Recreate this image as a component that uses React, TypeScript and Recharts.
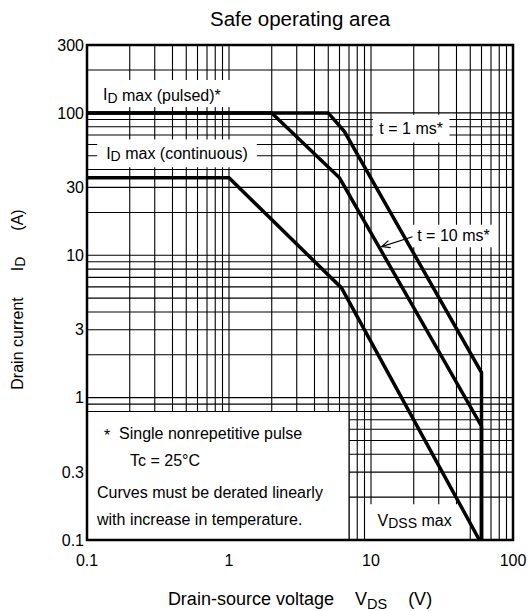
import React from 'react';
import {
  LineChart,
  Line,
  XAxis,
  YAxis,
  CartesianGrid,
  ReferenceArea,
  ReferenceLine,
} from 'recharts';

// ---- axis ticks (grid lines) ----
const xTicks = [
  0.1, 0.2, 0.3, 0.4, 0.5, 0.6, 0.7, 0.8, 0.9,
  1, 2, 3, 4, 5, 6, 7, 8, 9,
  10, 20, 30, 40, 50, 60, 70, 80, 90, 100,
];
const yTicks = [
  0.1, 0.2, 0.3, 0.4, 0.5, 0.6, 0.7, 0.8, 0.9,
  1, 2, 3, 4, 5, 6, 7, 8, 9,
  10, 20, 30, 40, 50, 60, 70, 80, 90,
  100, 200, 300,
];
const xTickLabels = [0.1, 1, 10, 100];
const yTickLabels = [0.1, 0.3, 1, 3, 10, 30, 100, 300];

// ---- curves: drain-source voltage (V) / drain current (A) ----
const pulse1msV = [0.1, 5, 6.5, 60, 60];
const pulse1msI = [100, 100, 74, 1.5, 0.1];
const pulse10msV = [0.1, 2, 6, 60, 60];
const pulse10msI = [100, 100, 35, 0.63, 0.1];
const dcV = [0.1, 1, 6.2, 58];
const dcI = [35, 35, 5.9, 0.1];

const toRows = (v: number[], i: number[]) => v.map((x, k) => ({ v: x, i: i[k] }));
const data1ms = toRows(pulse1msV, pulse1msI);
const data10ms = toRows(pulse10msV, pulse10msI);
const dataDc = toRows(dcV, dcI);

const FONT = '"Liberation Sans", Arial, Helvetica, sans-serif';
const BLACK = '#000';

const fmt = (labels: number[]) => (val: number) =>
  labels.some((l) => Math.abs(l - val) < 1e-9) ? String(val) : '';

const txt = { fontFamily: FONT, fill: BLACK } as const;

const pulsedLabel = (p: any) => {
  const vb = p.viewBox;
  return (
    <text x={vb.x + 16} y={vb.y + vb.height / 2 + 1} dominantBaseline="central" fontSize={16} {...txt}>
      I<tspan fontSize={14} dy={3}>D</tspan>
      <tspan dy={-3}> max (pulsed)*</tspan>
    </text>
  );
};

const contLabel = (p: any) => {
  const vb = p.viewBox;
  return (
    <text x={vb.x + vb.width / 2} y={vb.y + vb.height / 2} textAnchor="middle" dominantBaseline="central" fontSize={16} {...txt}>
      I<tspan fontSize={14} dy={3}>D</tspan>
      <tspan dy={-3}> max (continuous)</tspan>
    </text>
  );
};

const centerLabel = (s: string) => (p: any) => {
  const vb = p.viewBox;
  return (
    <text x={vb.x + vb.width / 2} y={vb.y + vb.height / 2} textAnchor="middle" dominantBaseline="central" fontSize={16} {...txt}>
      {s}
    </text>
  );
};

const vdssLabel = (p: any) => {
  const vb = p.viewBox;
  return (
    <text x={vb.x + vb.width / 2} y={vb.y + vb.height / 2 - 2} textAnchor="middle" dominantBaseline="central" fontSize={16} {...txt}>
      V<tspan fontSize={14} dy={3}>DSS</tspan>
      <tspan dy={-3}> max</tspan>
    </text>
  );
};

const noteLabel = (p: any) => {
  const vb = p.viewBox;
  const x = vb.x;
  const y = vb.y;
  return (
    <g fontSize={16} {...txt}>
      <text x={x + 17} y={y + 24} dominantBaseline="central">*</text>
      <text x={x + 32} y={y + 22} dominantBaseline="central">Single nonrepetitive pulse</text>
      <text x={x + 43} y={y + 49} dominantBaseline="central">Tc = 25°C</text>
      <text x={x + 10} y={y + 81} dominantBaseline="central">Curves must be derated linearly</text>
      <text x={x + 10} y={y + 108} dominantBaseline="central">with increase in temperature.</text>
    </g>
  );
};

const titleLabel = (p: any) => {
  const vb = p.viewBox;
  return (
    <text x={vb.x + vb.width / 2} y={vb.y - 27} textAnchor="middle" dominantBaseline="central" fontSize={20.5} {...txt}>
      Safe operating area
    </text>
  );
};

const xTitle = (p: any) => {
  const vb = p.viewBox;
  return (
    <text x={vb.x + vb.width / 2} y={vb.y + 65} textAnchor="middle" fontSize={18} {...txt}>
      Drain-source voltage
      <tspan dx={21}>V</tspan>
      <tspan fontSize={14.5} dy={4}>DS</tspan>
      <tspan dx={21} dy={-4}>(V)</tspan>
    </text>
  );
};

const yTitle = (p: any) => {
  const vb = p.viewBox;
  const cx = vb.x - 10;
  const cy = vb.y + vb.height / 2 + 7;
  return (
    <text
      x={cx}
      y={cy}
      transform={`rotate(-90, ${cx}, ${cy})`}
      textAnchor="middle"
      dominantBaseline="central"
      fontSize={16}
      {...txt}
    >
      Drain current
      <tspan dx={26}>I</tspan>
      <tspan fontSize={14} dy={3}>D</tspan>
      <tspan dx={26} dy={-3}>(A)</tspan>
    </text>
  );
};

const arrowShape = (p: any) => {
  const { x1, y1, x2, y2 } = p;
  const ang = Math.atan2(y2 - y1, x2 - x1);
  const len = 9;
  const spread = 0.42;
  const ax = x2 - len * Math.cos(ang - spread);
  const ay = y2 - len * Math.sin(ang - spread);
  const bx = x2 - len * Math.cos(ang + spread);
  const by = y2 - len * Math.sin(ang + spread);
  return (
    <g stroke={BLACK} strokeWidth={1.2} fill="none">
      <line x1={x1} y1={y1} x2={x2} y2={y2} />
      <polyline points={`${ax},${ay} ${x2},${y2} ${bx},${by}`} />
    </g>
  );
};

export default function App() {
  return (
    <div style={{ position: 'absolute', left: 0, top: 0, width: 528, height: 611, background: '#fff' }}>
      <LineChart width={528} height={611} margin={{ top: 45, right: 15, bottom: 11, left: 27 }}>
        <CartesianGrid stroke={BLACK} strokeWidth={1.1} />
        <XAxis
          type="number"
          dataKey="v"
          scale="log"
          domain={[0.1, 100]}
          ticks={xTicks}
          interval={0}
          allowDataOverflow
          tickFormatter={fmt(xTickLabels)}
          tickLine={false}
          axisLine={false}
          tickSize={0}
          tickMargin={15}
          height={60}
          tick={{ fontSize: 16, fontFamily: FONT, fill: BLACK }}
          label={xTitle}
        />
        <YAxis
          type="number"
          dataKey="i"
          scale="log"
          domain={[0.1, 300]}
          ticks={yTicks}
          interval={0}
          allowDataOverflow
          tickFormatter={fmt(yTickLabels)}
          tickLine={false}
          axisLine={false}
          tickSize={0}
          tickMargin={3}
          width={60}
          tick={{ fontSize: 16, fontFamily: FONT, fill: BLACK }}
          label={yTitle}
        />

        {/* white label boxes hiding the grid */}
        <ReferenceArea x1={0.1} x2={1.2} y1={110} y2={170} fill="#fff" fillOpacity={1} stroke="none" label={pulsedLabel} />
        <ReferenceArea x1={0.118} x2={1.57} y1={41.5} y2={65} fill="#fff" fillOpacity={1} stroke="none" label={contLabel} />
        <ReferenceArea x1={10.3} x2={35.7} y1={62} y2={97} fill="#fff" fillOpacity={1} stroke="none" label={centerLabel('t = 1 ms*')} />
        <ReferenceArea x1={19.6} x2={74} y1={11.4} y2={16.4} fill="#fff" fillOpacity={1} stroke="none" label={centerLabel('t = 10 ms*')} />
        <ReferenceArea x1={9.8} x2={42} y1={0.1} y2={0.178} fill="#fff" fillOpacity={1} stroke="none" label={vdssLabel} />
        <ReferenceArea x1={0.1} x2={7} y1={0.1} y2={0.8} fill="#fff" fillOpacity={1} stroke={BLACK} strokeWidth={1.1} label={noteLabel} />

        <ReferenceLine
          segment={[{ x: 19.6, y: 13.5 }, { x: 11.9, y: 11.5 }]}
          stroke={BLACK}
          shape={arrowShape}
        />

        <Line data={dataDc} dataKey="i" type="linear" stroke={BLACK} strokeWidth={3.5} dot={false} activeDot={false} isAnimationActive={false} />
        <Line data={data10ms} dataKey="i" type="linear" stroke={BLACK} strokeWidth={3.5} dot={false} activeDot={false} isAnimationActive={false} />
        <Line data={data1ms} dataKey="i" type="linear" stroke={BLACK} strokeWidth={3.5} dot={false} activeDot={false} isAnimationActive={false} />

        {/* plot frame + title */}
        <ReferenceArea x1={0.1} x2={100} y1={0.1} y2={300} fill="none" stroke={BLACK} strokeWidth={2.5} label={titleLabel} />
      </LineChart>
    </div>
  );
}
